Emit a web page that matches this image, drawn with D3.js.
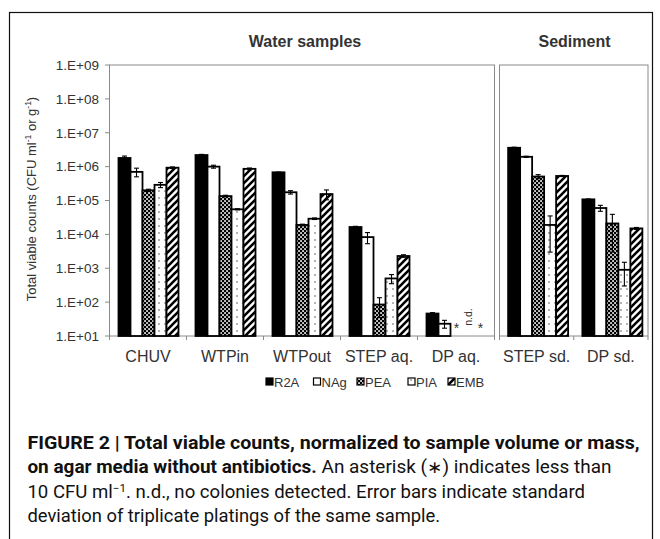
<!DOCTYPE html>
<html><head><meta charset="utf-8">
<script src="https://cdn.jsdelivr.net/npm/d3@7"></script>
<style>body{margin:0;background:#fff} svg{display:block}</style>
</head><body><svg id="c" width="660" height="539"></svg>
<script>
// ---------------- data ----------------
const categoriesWater = ["CHUV", "WTPin", "WTPout", "STEP aq.", "DP aq."];
const categoriesSediment = ["STEP sd.", "DP sd."];
const seriesNames = ["R2A", "NAg", "PEA", "PIA", "EMB"];
// values in category order: CHUV, WTPin, WTPout, STEP aq., DP aq., STEP sd., DP sd.
const r2aValues = [1.8e6, 2.2e6, 6.8e5, 1.65e4, 46, 3.6e6, 1.08e5];
const nagValues = [7.0e5, 1.0e6, 1.75e5, 8.3e3, 23, 1.95e6, 6.0e4];
const peaValues = [2.0e5, 1.35e5, 1.9e4, 85, null, 5.1e5, 2.1e4];
const piaValues = [2.9e5, 5.5e4, 2.9e4, 500, null, 1.9e4, 900];
const embValues = [9.3e5, 8.6e5, 1.55e5, 2.3e3, null, 5.3e5, 1.5e4];
const r2aErrors = [2.5e5, 1.0e5, 1.0e4, 8e2, 3, 1.5e5, 3e3];
const nagErrors = [2.0e5, 1.0e5, 2.0e4, 3e3, 6, 8e4, 1.2e4];
const peaErrors = [1.5e4, 8e3, 1e3, 50, null, 7e4, 1.8e4];
const piaErrors = [5e4, 2e3, 1.5e3, 150, null, 1.6e4, 600];
const embErrors = [5e4, 5e4, 5e4, 2e2, null, 2e4, 1e3];
// notes for values below detection (category "DP aq.")
const noteCategory = "DP aq.";
const noteSeries = ["PEA", "PIA", "EMB"];
const noteTexts = ["*", "n.d.", "*"];
const yTickValues = [1e1, 1e2, 1e3, 1e4, 1e5, 1e6, 1e7, 1e8, 1e9];
const yTickLabels = ["1.E+01", "1.E+02", "1.E+03", "1.E+04", "1.E+05", "1.E+06", "1.E+07", "1.E+08", "1.E+09"];

const valuesBySeries = [r2aValues, nagValues, peaValues, piaValues, embValues];
const errorsBySeries = [r2aErrors, nagErrors, peaErrors, piaErrors, embErrors];
const allCategories = categoriesWater.concat(categoriesSediment);

// ---------------- drawing ----------------
const svg = d3.select("#c");
const FONT = "'Liberation Sans', Arial, sans-serif";
const TXT = "#333";
const GRID = "#8a8a8a";

// patterns
const defs = svg.append("defs");
const pPea = defs.append("pattern").attr("id", "pea").attr("patternUnits", "userSpaceOnUse")
  .attr("width", 4).attr("height", 4);
pPea.append("rect").attr("width", 4).attr("height", 4).attr("fill", "#000");
pPea.append("rect").attr("x", 0.2).attr("y", 0.2).attr("width", 1.7).attr("height", 1.7).attr("fill", "#fff");
pPea.append("rect").attr("x", 2.2).attr("y", 2.2).attr("width", 1.7).attr("height", 1.7).attr("fill", "#fff");

const pPia = defs.append("pattern").attr("id", "pia").attr("patternUnits", "userSpaceOnUse")
  .attr("width", 6).attr("height", 7);
pPia.append("rect").attr("width", 6).attr("height", 7).attr("fill", "#fff");
pPia.append("circle").attr("cx", 3).attr("cy", 2).attr("r", 0.8).attr("fill", "#555");

const pEmb = defs.append("pattern").attr("id", "emb").attr("patternUnits", "userSpaceOnUse")
  .attr("width", 7).attr("height", 7);
pEmb.append("rect").attr("width", 7).attr("height", 7).attr("fill", "#fff");
pEmb.append("path").attr("d", "M-1,1 L1,-1 M0,7 L7,0 M6,8 L8,6")
  .attr("stroke", "#000").attr("stroke-width", 2.6);

const fills = { R2A: "#000", NAg: "#fff", PEA: "url(#pea)", PIA: "url(#pia)", EMB: "url(#emb)" };

// outer border
svg.append("rect").attr("x", 9.5).attr("y", 12.5).attr("width", 643).attr("height", 560)
  .attr("fill", "none").attr("stroke", "#111").attr("stroke-width", 1.2);

// scales
const yTop = 65, yBottom = 336;
const y = d3.scaleLog().domain([10, 1e9]).range([yBottom, yTop]);
const xWater = d3.scaleBand().domain(categoriesWater).range([109.5, 494.5]);
const xSed = d3.scaleBand().domain(categoriesSediment).range([499.5, 648]);
const groupWidth = 60;
const inner = d3.scaleBand().domain(seriesNames).range([0, groupWidth]);
function xScaleFor(cat) { return categoriesWater.includes(cat) ? xWater : xSed; }
function groupStart(cat) {
  const s = xScaleFor(cat);
  return s(cat) + (s.bandwidth() - groupWidth) / 2 + (s === xSed ? 1.5 : 0.5);
}

// panels
[xWater, xSed].forEach(s => {
  const r = s.range();
  svg.append("rect").attr("x", r[0]).attr("y", yTop).attr("width", r[1] - r[0]).attr("height", yBottom - yTop)
    .attr("fill", "none").attr("stroke", GRID).attr("stroke-width", 1);
});

// y axis ticks and labels
const yAxisG = svg.append("g");
yAxisG.selectAll("line").data(yTickValues).join("line")
  .attr("x1", 105).attr("x2", 109.5).attr("y1", d => y(d)).attr("y2", d => y(d))
  .attr("stroke", GRID);
yAxisG.selectAll("text").data(yTickValues).join("text")
  .attr("x", 99).attr("y", d => y(d)).attr("dy", "0.36em")
  .attr("text-anchor", "end").attr("font-family", FONT).attr("font-size", 13.5).attr("fill", TXT)
  .text((d, i) => yTickLabels[i]);

// x ticks at band boundaries
[xWater, xSed].forEach(s => {
  const bounds = s.domain().map(c => s(c)).concat([s.range()[1]]);
  svg.append("g").selectAll("line").data(bounds).join("line")
    .attr("x1", d => d).attr("x2", d => d).attr("y1", yBottom).attr("y2", yBottom + 4)
    .attr("stroke", GRID);
});

// bars
const barData = [];
allCategories.forEach((cat, ci) => {
  seriesNames.forEach((sName, si) => {
    const v = valuesBySeries[si][ci];
    if (v == null) return;
    barData.push({ cat, sName, v, e: errorsBySeries[si][ci] });
  });
});
const bw = inner.bandwidth();
svg.append("g").selectAll("rect").data(barData).join("rect")
  .attr("x", d => groupStart(d.cat) + inner(d.sName))
  .attr("y", d => y(d.v))
  .attr("width", bw)
  .attr("height", d => y(10) - y(d.v))
  .attr("fill", d => fills[d.sName])
  .attr("stroke", "#000").attr("stroke-width", 1.8);

// error bars
const eg = svg.append("g").attr("stroke", "#000").attr("stroke-width", 1.1);
barData.filter(d => d.e != null).forEach(d => {
  const cx = groupStart(d.cat) + inner(d.sName) + bw / 2;
  const hi = y(d.v + d.e);
  const loV = d.v - d.e;
  const lo = loV > 10 ? y(loV) : y(10);
  eg.append("line").attr("x1", cx).attr("x2", cx).attr("y1", hi).attr("y2", lo);
  eg.append("line").attr("x1", cx - 2.5).attr("x2", cx + 2.5).attr("y1", hi).attr("y2", hi);
  if (loV > 10) eg.append("line").attr("x1", cx - 2.5).attr("x2", cx + 2.5).attr("y1", lo).attr("y2", lo);
});

// notes (*, n.d.)
noteSeries.forEach((sName, i) => {
  const cx = groupStart(noteCategory) + inner(sName) + bw / 2;
  if (noteTexts[i] === "n.d.") {
    svg.append("text").attr("transform", `translate(${cx + 3},${317}) rotate(-90)`)
      .attr("text-anchor", "middle").attr("font-family", FONT).attr("font-size", 10.5).attr("fill", TXT)
      .text(noteTexts[i]);
  } else {
    svg.append("text").attr("x", cx).attr("y", 333).attr("text-anchor", "middle")
      .attr("font-family", FONT).attr("font-size", 14).attr("fill", TXT).text(noteTexts[i]);
  }
});

// category labels
allCategories.forEach(cat => {
  const s = xScaleFor(cat);
  svg.append("text").attr("x", s(cat) + s.bandwidth() / 2).attr("y", 362)
    .attr("text-anchor", "middle").attr("font-family", FONT).attr("font-size", 16).attr("fill", TXT)
    .text(cat);
});

// panel titles
svg.append("text").attr("x", 305).attr("y", 46.5).attr("text-anchor", "middle")
  .attr("font-family", FONT).attr("font-weight", "bold").attr("font-size", 16).attr("fill", TXT)
  .text("Water samples");
svg.append("text").attr("x", 574.5).attr("y", 46.5).attr("text-anchor", "middle")
  .attr("font-family", FONT).attr("font-weight", "bold").attr("font-size", 16).attr("fill", TXT)
  .text("Sediment");

// y axis title
const yt = svg.append("text").attr("transform", "translate(36,199) rotate(-90)")
  .attr("text-anchor", "middle").attr("font-family", FONT).attr("font-size", 13).attr("fill", TXT);
yt.append("tspan").text("Total viable counts (CFU ml");
yt.append("tspan").attr("dy", -5).attr("font-size", 8.5).text("-1");
yt.append("tspan").attr("dy", 5).text(" or g");
yt.append("tspan").attr("dy", -5).attr("font-size", 8.5).text("-1");
yt.append("tspan").attr("dy", 5).text(")");

// legend
const legendX = [266, 313.5, 357, 408, 448];
const lg = svg.append("g");
seriesNames.forEach((sName, i) => {
  lg.append("rect").attr("x", legendX[i]).attr("y", 378).attr("width", 7).attr("height", 7)
    .attr("fill", fills[sName]).attr("stroke", "#000").attr("stroke-width", 1.2);
  lg.append("text").attr("x", legendX[i] + 8).attr("y", 386.5)
    .attr("font-family", FONT).attr("font-size", 13).attr("fill", TXT).text(sName);
});

// caption
const CAP = "Roboto, 'Liberation Sans', sans-serif";
function capLine(baseline, target) {
  const t = svg.append("text").attr("x", 0).attr("y", 0)
    .attr("font-family", CAP).attr("font-size", 17.5).attr("fill", "#111");
  return { t, finish() {
    const w = t.node().getComputedTextLength();
    t.attr("transform", `translate(27.4,${baseline}) scale(${target / w},1)`);
  } };
}
const l1 = capLine(448.5, 612.6);
l1.t.append("tspan").attr("font-weight", "bold").text("FIGURE 2 | Total viable counts, normalized to sample volume or mass,");
l1.finish();
const l2 = capLine(472.5, 585);
l2.t.append("tspan").attr("font-weight", "bold").text("on agar media without antibiotics.");
l2.t.append("tspan").text(" An asterisk (\u2217) indicates less than");
l2.finish();
const l3 = capLine(497.5, 558);
l3.t.append("tspan").text("10 CFU ml");
l3.t.append("tspan").attr("dy", -6).attr("font-size", 11).text("\u22121");
l3.t.append("tspan").attr("dy", 6).text(". n.d., no colonies detected. Error bars indicate standard");
l3.finish();
const l4 = capLine(522, 413);
l4.t.append("tspan").text("deviation of triplicate platings of the same sample.");
l4.finish();
</script></body></html>
